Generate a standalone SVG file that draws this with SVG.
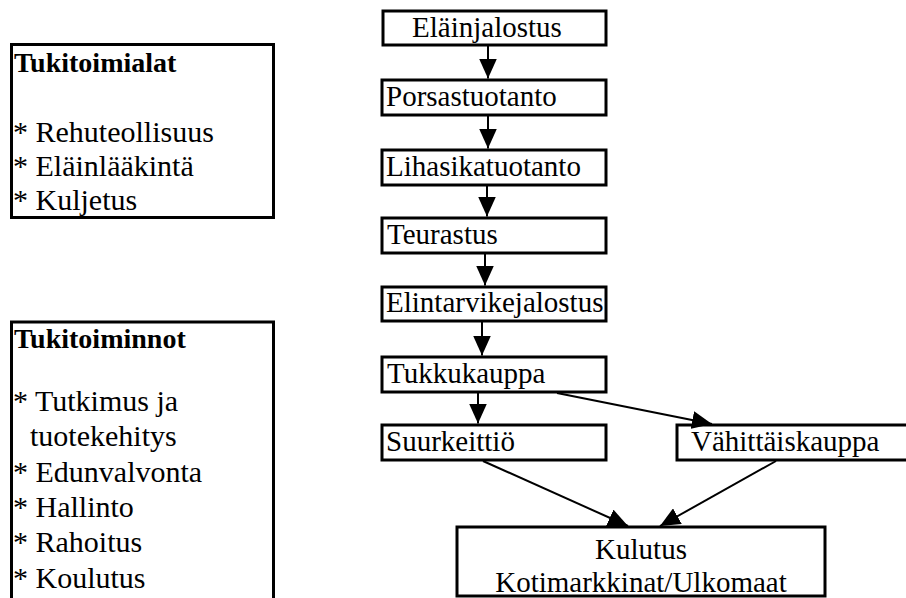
<svg xmlns="http://www.w3.org/2000/svg" width="906" height="598" viewBox="0 0 906 598">
<style>
.box{fill:#fff;stroke:#000;stroke-width:3}
.t{font-family:"Liberation Serif","Times New Roman",serif;font-size:29px;fill:#000}
.l{font-family:"Liberation Serif","Times New Roman",serif;font-size:30px;fill:#000}
.h{font-family:"Liberation Serif","Times New Roman",serif;font-size:28px;font-weight:bold;fill:#000}
.c{stroke:#000;stroke-width:2;fill:none;marker-end:url(#ah)}
</style>
<defs>
<marker id="ah" viewBox="0 0 20 18" refX="20" refY="9" markerWidth="20" markerHeight="18" markerUnits="userSpaceOnUse" orient="auto">
<path d="M0,0 L20,9 L0,18 z" fill="#000"/>
</marker>
</defs>
<rect width="906" height="598" fill="#fff"/>
<g id="tukitoimialat">
<rect class="box" x="11.5" y="44.5" width="262" height="173"/>
<text class="h" x="14" y="72">Tukitoimialat</text>
<text class="l" x="13" y="142">* Rehuteollisuus</text>
<text class="l" x="13" y="176">* Eläinlääkintä</text>
<text class="l" x="13" y="210">* Kuljetus</text>
</g>
<g id="tukitoiminnot">
<rect class="box" x="11.5" y="322" width="262" height="284"/>
<text class="h" x="14" y="348">Tukitoiminnot</text>
<text class="l" x="13" y="411">* Tutkimus ja</text>
<text class="l" x="30" y="446">tuotekehitys</text>
<text class="l" x="13" y="482">* Edunvalvonta</text>
<text class="l" x="13" y="517">* Hallinto</text>
<text class="l" x="13" y="552">* Rahoitus</text>
<text class="l" x="13" y="588">* Koulutus</text>
</g>
<g id="elainjalostus">
<rect class="box" x="383" y="11" width="223" height="34"/>
<text class="t" x="412" y="37">Eläinjalostus</text>
</g>
<g id="porsastuotanto">
<rect class="box" x="382" y="80" width="224" height="35"/>
<text class="t" x="386" y="106">Porsastuotanto</text>
</g>
<g id="lihasikatuotanto">
<rect class="box" x="382" y="150" width="224" height="35"/>
<text class="t" x="386" y="176">Lihasikatuotanto</text>
</g>
<g id="teurastus">
<rect class="box" x="382" y="218" width="224" height="35"/>
<text class="t" x="387" y="244">Teurastus</text>
</g>
<g id="elintarvikejalostus">
<rect class="box" x="382" y="287" width="224" height="34"/>
<text class="t" x="386" y="312">Elintarvikejalostus</text>
</g>
<g id="tukkukauppa">
<rect class="box" x="382" y="357" width="224" height="35"/>
<text class="t" x="387" y="383">Tukkukauppa</text>
</g>
<g id="suurkeittio">
<rect class="box" x="382" y="425" width="224" height="35"/>
<text class="t" x="386" y="451">Suurkeittiö</text>
</g>
<g id="vahittaiskauppa">
<rect class="box" x="677" y="425" width="240" height="35"/>
<text class="t" x="691" y="451">Vähittäiskauppa</text>
</g>
<g id="kulutus">
<rect class="box" x="457" y="527" width="368" height="69"/>
<text class="t" x="641" y="559" text-anchor="middle">Kulutus</text>
<text class="t" x="641" y="592" text-anchor="middle">Kotimarkkinat/Ulkomaat</text>
</g>
<g id="connectors">
<line class="c" x1="488" y1="46" x2="488" y2="78.5"/>
<line class="c" x1="488" y1="116" x2="488" y2="148.5"/>
<line class="c" x1="487" y1="186" x2="487" y2="216.5"/>
<line class="c" x1="485" y1="254" x2="485" y2="285.5"/>
<line class="c" x1="482" y1="322" x2="482" y2="355.5"/>
<line class="c" x1="478" y1="393" x2="478" y2="423.5"/>
<line class="c" x1="557" y1="393" x2="712" y2="424"/>
<line class="c" x1="483" y1="461" x2="628" y2="526"/>
<line class="c" x1="776" y1="461" x2="660" y2="526"/>
</g>
</svg>
